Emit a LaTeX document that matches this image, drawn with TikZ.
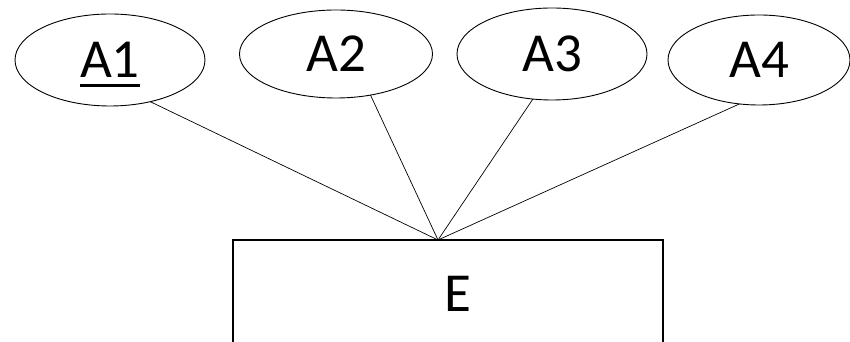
\documentclass[tikz,border=0pt]{standalone}
\usepackage{fontspec}
\setmainfont{Carlito}
\usetikzlibrary{shapes.geometric}
\newcommand{\keyul}[1]{\setbox0\hbox{#1}\rlap{\smash{\rule[-9pt]{\wd0}{2.5pt}}}\box0}

\begin{document}
\begin{tikzpicture}[%
x=1pt, y=1pt,
attr/.style={draw, shape=ellipse, inner sep=0pt, outer sep=0pt, line width=0.9pt, font=\fontsize{55}{60}\selectfont},
entity/.style={draw, shape=rectangle, inner sep=0pt, outer sep=0pt, line width=1.1pt, minimum width=430pt, minimum height=108pt, font=\fontsize{55}{60}\selectfont}]%Define the styles for attributes and the entity
\clip (0,0) rectangle (850,342);
\useasboundingbox (0,0) rectangle (850,342);
\node[attr, minimum width=190pt, minimum height=92pt] (A1) at (110,282) {\keyul{A1}};
\node[attr, minimum width=193pt, minimum height=88pt] (A2) at (336,288) {A2};
\node[attr, minimum width=190pt, minimum height=92pt] (A3) at (552,288) {A3};
\node[attr, minimum width=182pt, minimum height=90pt] (A4) at (759,282) {A4};
\node[entity] (E) at (448,48) {\hspace*{20pt}E}; %Entity box, cut off at the bottom
\coordinate (hub) at ([xshift=-10pt]E.north);
\draw[line width=0.7pt] (A1.-46)  -- (hub);
\draw[line width=0.7pt] (A2.-50)  -- (hub);
\draw[line width=0.7pt] (A3.-113) -- (hub);
\draw[line width=0.7pt] (A4.-114) -- (hub);
\end{tikzpicture}
\end{document}
